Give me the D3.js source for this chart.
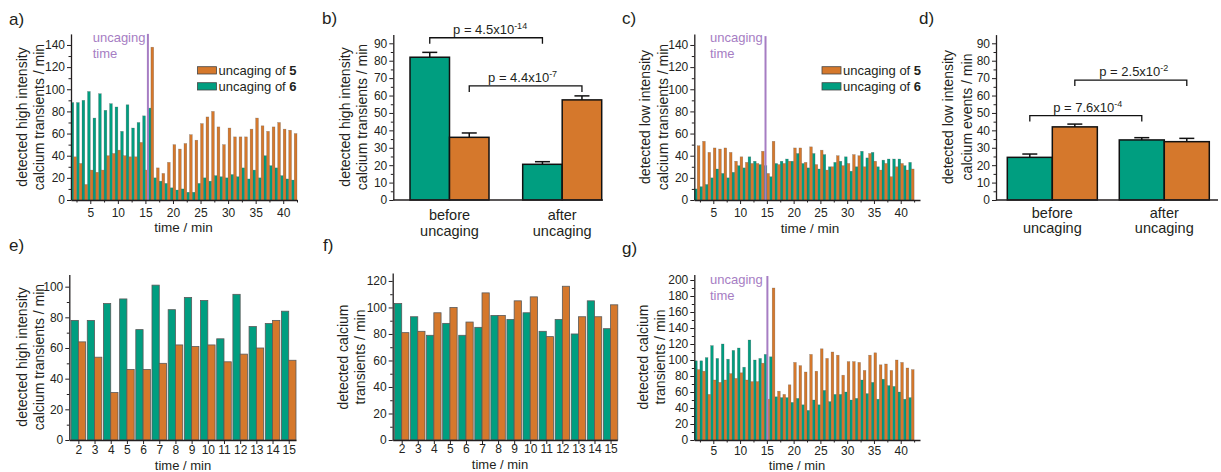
<!DOCTYPE html>
<html>
<head>
<meta charset="utf-8">
<script src="https://cdn.jsdelivr.net/npm/d3@7"></script>
<style>
  body { margin: 0; background: #fff; }
  svg { display: block; }
</style>
</head>
<body>
<svg id="fig" width="1221" height="472"></svg>
<script>
// ---------- data ----------
// minutes of the long recordings (a, c, g) and of the control recordings (e, f)
const minutes = d3.range(2, 43);
const controlMinutes = d3.range(2, 16);
const timeTicks = [5, 10, 15, 20, 25, 30, 35, 40];

// a) high intensity transients / min
const highUncage5 = [39,33,14,27,25,27,40,42,45,40,39,39,52,27,138,29,24,34,50,46,51,59,54,69,75,80,66,50,65,57,57,57,64,74,67,62,66,70,64,63,60];
const highUncage6 = [88,88,90,98,74,96,81,87,84,62,86,65,70,76,83,20,17,15,11,9,10,7,7,15,20,17,22,21,20,23,21,29,19,27,20,40,31,29,22,19,18];

// c) low intensity transients / min
const lowUncage5 = [49,53,43,47,46,47,43,35,39,34,33,33,44,24,53,32,33,35,47,47,34,48,32,45,27,30,40,31,33,41,40,30,42,35,27,33,21,30,33,27,28];
const lowUncage6 = [10,12,14,20,28,24,20,25,31,29,39,35,32,31,21,33,35,37,35,42,33,29,42,28,41,30,34,35,39,26,30,44,38,43,30,36,37,37,37,31,34];

// g) all detected transients / min
const totalUncage5 = [88,86,57,75,72,75,83,77,84,75,73,73,96,51,190,61,57,69,97,93,85,107,86,114,102,110,106,81,98,98,97,87,106,109,94,95,87,100,97,90,88];
const totalUncage6 = [99,99,103,118,102,120,101,112,115,91,125,100,102,107,104,54,53,53,47,52,44,37,50,44,62,48,57,57,60,50,52,75,58,72,51,76,68,67,60,51,53];

// e) control: high intensity transients / min
const ctrlHigh6 = [78,78,89,92,72,101,85,93,91,66,95,74,76,84];
const ctrlHigh5 = [64,54,31,46,46,50,62,61,62,51,56,60,78,52];

// f) control: all transients / min
const ctrlTotal6 = [103,93,79,88,79,85,94,91,96,82,91,80,105,84];
const ctrlTotal5 = [81,82,96,100,89,111,94,105,108,78,116,93,93,102];

// b) / d) means before / after uncaging (with SEM)
const phases = [["before", "uncaging"], ["after", "uncaging"]];
const highMean6 = [82, 20.5], highErr6 = [2.8, 1.5];
const highMean5 = [36, 57.5], highErr5 = [2.5, 2.3];
const lowMean6  = [24.5, 34.5], lowErr6 = [1.9, 1.3];
const lowMean5  = [42, 33.5],   lowErr5 = [1.6, 1.9];

// ---------- style ----------
const GREEN = "#009e80", ORANGE = "#d5782c", PURPLE = "#a67dc3", INK = "#231f20";
const FONT = '"Liberation Sans", Arial, Helvetica, sans-serif';

const svg = d3.select("#fig").attr("font-family", FONT).style("color", INK);

function styleAxis(sel, fs) {
  sel.attr("font-family", FONT).attr("font-size", fs);
  sel.select(".domain").attr("stroke-width", 1.3);
  sel.selectAll(".tick line").attr("stroke-width", 1);
  sel.selectAll("text").attr("fill", INK);
}

function yAxis(g, y, x0, major, minor) {
  g.append("g").attr("transform", `translate(${x0},0)`)
    .call(d3.axisLeft(y).tickValues(minor).tickSize(2.5).tickFormat("").tickSizeOuter(0))
    .call(s => { s.select(".domain").remove(); s.selectAll("line").attr("stroke-width", 1); });
  g.append("g").attr("transform", `translate(${x0},0)`)
    .call(d3.axisLeft(y).tickValues(major).tickSize(4).tickPadding(2).tickSizeOuter(0))
    .call(s => styleAxis(s, 12));
}

function yTitle(g, lines, xs, yc, fs) {
  lines.forEach((t, i) => {
    g.append("text").attr("transform", `translate(${xs[i]},${yc}) rotate(-90)`)
      .attr("text-anchor", "middle").attr("font-size", fs).attr("fill", INK).text(t);
  });
}

function panelLabel(t, x, y) {
  svg.append("text").attr("x", x).attr("y", y).attr("font-size", 17).attr("fill", INK).text(t);
}

function legend(g, x, y) {
  [[ORANGE, "5"], [GREEN, "6"]].forEach(([c, n], i) => {
    g.append("rect").attr("x", x).attr("y", y + i * 16).attr("width", 19).attr("height", 7.3)
      .attr("fill", c).attr("stroke", "#444").attr("stroke-width", 0.8);
    const t = g.append("text").attr("x", x + 21).attr("y", y + 7.8 + i * 16)
      .attr("font-size", 13).attr("fill", INK).text("uncaging of ");
    t.append("tspan").attr("font-weight", "bold").text(n);
  });
}

// ---------- per-minute bar panels ----------
function timePanel(p) {
  const g = svg.append("g");
  const x = d3.scaleLinear().domain(p.xDomain).range(p.xRange);
  const y = d3.scaleLinear().domain(p.yDomain).range(p.yRange);
  const w = p.barW;

  // uncaging of 6 sits left of the minute, uncaging of 5 right of it
  g.selectAll(".b6").data(p.cats).join("rect")
    .attr("x", d => x(d - w)).attr("width", d => x(d) - x(d - w))
    .attr("y", (d, i) => y(p.s6[i])).attr("height", (d, i) => y(0) - y(p.s6[i]))
    .attr("fill", GREEN).attr("stroke", p.stroke).attr("stroke-width", p.sw);
  g.selectAll(".b5").data(p.cats).join("rect")
    .attr("x", d => x(d)).attr("width", d => x(d + w) - x(d))
    .attr("y", (d, i) => y(p.s5[i])).attr("height", (d, i) => y(0) - y(p.s5[i]))
    .attr("fill", ORANGE).attr("stroke", p.stroke).attr("stroke-width", p.sw);

  if (p.uncaging !== undefined) {
    g.append("line").attr("x1", x(p.uncaging)).attr("x2", x(p.uncaging))
      .attr("y1", y(0)).attr("y2", y(p.lineTop))
      .attr("stroke", PURPLE).attr("stroke-width", 2);
    p.uncagingText.forEach((t, i) => {
      g.append("text").attr("x", p.utx).attr("y", p.uty[i]).attr("font-size", 13)
        .attr("fill", PURPLE).text(t);
    });
  }

  yAxis(g, y, p.xRange[0], p.yMajor, p.yMinor);

  const yb = p.yRange[0];
  if (p.xMinor) {
    g.append("g").attr("transform", `translate(0,${yb})`)
      .call(d3.axisBottom(x).tickValues(p.xMinor).tickSize(2.5).tickFormat("").tickSizeOuter(0))
      .call(s => { s.select(".domain").remove(); s.selectAll("line").attr("stroke-width", 1); });
  }
  g.append("g").attr("transform", `translate(0,${yb})`)
    .call(d3.axisBottom(x).tickValues(p.xMajor).tickSize(4).tickPadding(p.xPad).tickSizeOuter(0))
    .call(s => styleAxis(s, p.xFont || 12));

  g.append("text").attr("x", p.xtx).attr("y", p.xty).attr("text-anchor", "middle")
    .attr("font-size", p.xTitleFont || 13.5).attr("fill", INK).text("time / min");

  yTitle(g, p.yTitle, p.yTitleX, p.yTitleY, 14);
  return g;
}

// ---------- before/after summary panels ----------
function summaryPanel(p) {
  const g = svg.append("g");
  const y = d3.scaleLinear().domain([0, 95]).range([200, 34.6]);
  const x = d3.scaleBand().domain([0, 1]).range(p.barRange).paddingInner(p.pad).paddingOuter(0);
  const xs = d3.scaleBand().domain(["6", "5"]).range([0, x.bandwidth()]);
  const series = [["6", GREEN, p.m6, p.e6], ["5", ORANGE, p.m5, p.e5]];
  const cx = (i, s) => x(i) + xs(s) + xs.bandwidth() / 2;

  series.forEach(([s, c, m, e]) => {
    [0, 1].forEach(i => {
      const xc = cx(i, s);
      g.append("line").attr("x1", xc).attr("x2", xc).attr("y1", y(m[i])).attr("y2", y(m[i] + e[i]))
        .attr("stroke", "#111").attr("stroke-width", 1.5);
      g.append("line").attr("x1", xc - 7.5).attr("x2", xc + 7.5).attr("y1", y(m[i] + e[i])).attr("y2", y(m[i] + e[i]))
        .attr("stroke", "#111").attr("stroke-width", 1.5);
      g.append("rect").attr("x", x(i) + xs(s)).attr("width", xs.bandwidth())
        .attr("y", y(m[i])).attr("height", y(0) - y(m[i]))
        .attr("fill", c).attr("stroke", "#111").attr("stroke-width", 1.5);
    });
  });

  // significance brackets
  p.brackets.forEach(b => {
    const x1 = cx(b.from[0], b.from[1]), x2 = cx(b.to[0], b.to[1]);
    const yl = y(b.level);
    g.append("path").attr("d", `M${x1},${yl + 6}V${yl}H${x2}V${yl + 6}`)
      .attr("fill", "none").attr("stroke", "#111").attr("stroke-width", 1.3);
    const t = g.append("text").attr("x", (x1 + x2) / 2 + b.dx).attr("y", yl - 4)
      .attr("text-anchor", "middle").attr("font-size", 13).attr("fill", INK).text("p = " + b.p);
    t.append("tspan").attr("font-size", 9).attr("dy", -5).text(b.exp);
  });

  yAxis(g, y, p.axisX, d3.range(0, 91, 10), d3.range(5, 95, 10));
  g.append("line").attr("x1", p.axisX).attr("x2", p.axisEnd).attr("y1", 200).attr("y2", 200)
    .attr("stroke", INK).attr("stroke-width", 1.3);

  phases.forEach((lines, i) => {
    const t = g.append("text").attr("text-anchor", "middle").attr("font-size", 14.5).attr("fill", INK);
    lines.forEach((l, k) => t.append("tspan").attr("x", x(i) + x.bandwidth() / 2)
      .attr("y", p.labelY[k]).text(l));
  });

  yTitle(g, p.yTitle, p.yTitleX, 117, 14);
}

// ---------- draw ----------
const longBase = {
  cats: minutes, barW: 0.5, stroke: "rgba(70,70,70,0.45)", sw: 0.5,
  xMajor: timeTicks, xMinor: d3.range(2.5, 43, 5), xPad: 4
};

// a)
const ga = timePanel(Object.assign({}, longBase, {
  xRange: [71, 297], xDomain: [1.5, 42.5], yRange: [200, 33.9], yDomain: [0, 150],
  yMajor: d3.range(0, 141, 20), yMinor: d3.range(10, 141, 20),
  s5: highUncage5, s6: highUncage6,
  uncaging: 15.45, lineTop: 150, uncagingText: ["uncaging", "time"], utx: 92.7, uty: [41.5, 58.3],
  xtx: 183.5, xty: 232,
  yTitle: ["detected high intensity", "calcium transients / min"], yTitleX: [26.7, 44.3], yTitleY: 117
}));
legend(ga, 197.5, 66.7);

// c)
const gc = timePanel(Object.assign({}, longBase, {
  xRange: [694.3, 920], xDomain: [1.45, 43.6], yRange: [200, 33.9], yDomain: [0, 150],
  yMajor: d3.range(0, 141, 20), yMinor: d3.range(10, 141, 20),
  s5: lowUncage5, s6: lowUncage6,
  uncaging: 14.75, lineTop: 148, uncagingText: ["uncaging", "time"], utx: 710, uty: [41.5, 58.3],
  xtx: 810, xty: 233,
  yTitle: ["detected low intensity", "calcium transients / min"], yTitleX: [650, 668.3], yTitleY: 117
}));
legend(gc, 822, 66.7);

// g)
timePanel(Object.assign({}, longBase, {
  xRange: [694.3, 920], xDomain: [1.45, 43.6], yRange: [440, 274.4], yDomain: [0, 207],
  yMajor: d3.range(0, 201, 20), yMinor: d3.range(10, 201, 20), xPad: 2,
  s5: totalUncage5, s6: totalUncage6,
  uncaging: 15.1, lineTop: 205, uncagingText: ["uncaging", "time"], utx: 710, uty: [283.5, 299.5],
  xtx: 797, xty: 469.5, xTitleFont: 13,
  yTitle: ["detected calcium", "transients / min"], yTitleX: [648.3, 665], yTitleY: 357
}));

// e)
timePanel({
  cats: controlMinutes, barW: 0.45, stroke: "#5a5a5a", sw: 0.8,
  xRange: [69.3, 296], xDomain: [1.44, 15.45], yRange: [440, 274.4], yDomain: [0, 108],
  yMajor: d3.range(0, 101, 20), yMinor: d3.range(10, 101, 20),
  xMajor: controlMinutes, xPad: 1.5,
  s5: ctrlHigh5, s6: ctrlHigh6,
  xtx: 183, xty: 469.5, xTitleFont: 13,
  yTitle: ["detected high intensity", "calcium transients / min"], yTitleX: [26.7, 44.3], yTitleY: 357
});

// f)
timePanel({
  cats: controlMinutes, barW: 0.45, stroke: "#5a5a5a", sw: 0.8,
  xRange: [392.7, 617.3], xDomain: [1.44, 15.42], yRange: [440, 273], yDomain: [0, 126],
  yMajor: d3.range(0, 121, 20), yMinor: d3.range(10, 121, 20),
  xMajor: controlMinutes, xPad: 0.5,
  s5: ctrlTotal5, s6: ctrlTotal6,
  xtx: 500, xty: 468.5, xTitleFont: 13,
  yTitle: ["detected calcium", "transients / min"], yTitleX: [348.3, 365], yTitleY: 357
});

// b)
summaryPanel({
  axisX: 393.3, axisEnd: 603, barRange: [410, 601.7], pad: 0.299,
  m6: highMean6, e6: highErr6, m5: highMean5, e5: highErr5,
  brackets: [
    { from: [0, "6"], to: [1, "6"], level: 93.2, p: "4.5x10", exp: "-14", dx: 4 },
    { from: [0, "5"], to: [1, "5"], level: 65.5, p: "4.4x10", exp: "-7", dx: -3 }
  ],
  labelY: [220, 235.5],
  yTitle: ["detected high intensity", "calcium transients / min"], yTitleX: [350, 366.7]
});

// d)
summaryPanel({
  axisX: 996, axisEnd: 1218, barRange: [1007.3, 1209.3], pad: 0.196,
  m6: lowMean6, e6: lowErr6, m5: lowMean5, e5: lowErr5,
  brackets: [
    { from: [0, "6"], to: [1, "6"], level: 48.5, p: "7.6x10", exp: "-4", dx: 2 },
    { from: [0, "5"], to: [1, "5"], level: 68.9, p: "2.5x10", exp: "-2", dx: 3 }
  ],
  labelY: [218, 233],
  yTitle: ["detected low intensity", "calcium events / min"], yTitleX: [953.3, 971.7]
});

panelLabel("a)", 9, 25);
panelLabel("b)", 322, 23.5);
panelLabel("c)", 622, 23.5);
panelLabel("d)", 919, 23.5);
panelLabel("e)", 9, 251);
panelLabel("f)", 323, 251);
panelLabel("g)", 622, 254);
</script>
</body>
</html>
